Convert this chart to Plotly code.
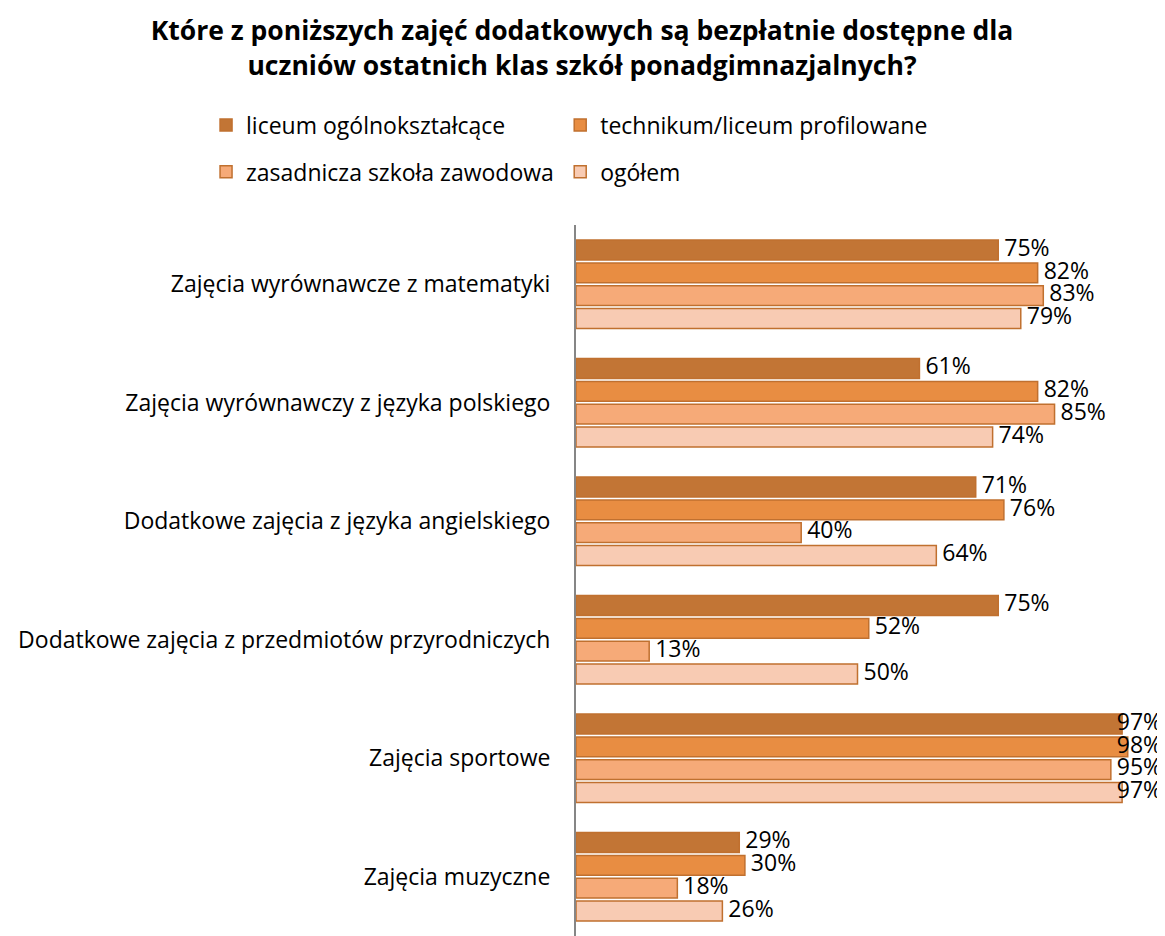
import plotly.graph_objects as go

categories = [
    "Zajęcia wyrównawcze z matematyki",
    "Zajęcia wyrównawczy z języka polskiego",
    "Dodatkowe zajęcia z języka angielskiego",
    "Dodatkowe zajęcia z przedmiotów przyrodniczych",
    "Zajęcia sportowe",
    "Zajęcia muzyczne",
]
series_names = [
    "liceum ogólnokształcące",
    "technikum/liceum profilowane",
    "zasadnicza szkoła zawodowa",
    "ogółem",
]
liceum = [75, 61, 71, 75, 97, 29]
technikum = [82, 82, 76, 52, 98, 30]
zasadnicza = [83, 85, 40, 13, 95, 18]
ogolem = [79, 74, 64, 50, 97, 26]
series_values = [liceum, technikum, zasadnicza, ogolem]
colors = ["#C27535", "#E88D42", "#F6AA78", "#F8CBB3"]
legend_ids = ["legend", "legend2", "legend3", "legend4"]

FONT = "Open Sans"
LABEL_CAP = 0.95  # labels near the right edge are kept inside the chart, as in the original

fig = go.Figure()
for i, (name, vals, col) in enumerate(zip(series_names, series_values, colors)):
    fig.add_trace(go.Bar(
        y=categories, x=[v / 100 for v in vals], name=name, orientation="h",
        marker=dict(color=col, line=dict(color="#C0702F", width=1.5)),
        legend=legend_ids[i], offsetgroup=str(i), alignmentgroup="a", hoverinfo="skip",
    ))
for i, vals in enumerate(series_values):
    fig.add_trace(go.Scatter(
        y=categories, x=[min(v / 100, LABEL_CAP) for v in vals], mode="text",
        orientation="h",
        text=[f" {v}%" for v in vals], textposition="middle right",
        textfont=dict(family=FONT, size=23, color="#000000"),
        showlegend=False, cliponaxis=False, offsetgroup=str(i), alignmentgroup="a",
        hoverinfo="skip",
    ))

legend_common = dict(
    orientation="h", xref="container", yref="container", yanchor="top", xanchor="left",
    font=dict(family=FONT, size=23, color="#000000"), itemwidth=30,
    bgcolor="rgba(0,0,0,0)",
)
row1_y, row2_y = 0.898, 0.848
col1_x, col2_x = 0.170, 0.474

fig.update_layout(
    width=1165, height=936,
    margin=dict(l=568, r=34, t=217, b=8, autoexpand=False),
    paper_bgcolor="white", plot_bgcolor="white",
    barmode="group", bargap=0.23, bargroupgap=0.13,
    scattermode="group", scattergap=0.23,
    font=dict(family=FONT, size=23, color="#000000"),
    title=dict(
        text="<b>Które z poniższych zajęć dodatkowych są bezpłatnie dostępne dla<br>uczniów ostatnich klas szkół ponadgimnazjalnych?</b>",
        x=0.4927, xanchor="center", xref="container", y=0.9655, yanchor="middle", yref="container",
        font=dict(family=FONT, size=26.5, color="#000000"),
    ),
    legend=dict(legend_common, x=col1_x, y=row1_y),
    legend2=dict(legend_common, x=col2_x, y=row1_y),
    legend3=dict(legend_common, x=col1_x, y=row2_y),
    legend4=dict(legend_common, x=col2_x, y=row2_y),
    xaxis=dict(range=[0, 1], showticklabels=False, showgrid=False, zeroline=False, showline=False),
    yaxis=dict(autorange="reversed", showline=True, linecolor="#868686", linewidth=2,
               ticks="", showgrid=False, ticklabelstandoff=19, automargin=False,
               tickfont=dict(family=FONT, size=23, color="#000000")),
)
fig.write_html("out.html")
